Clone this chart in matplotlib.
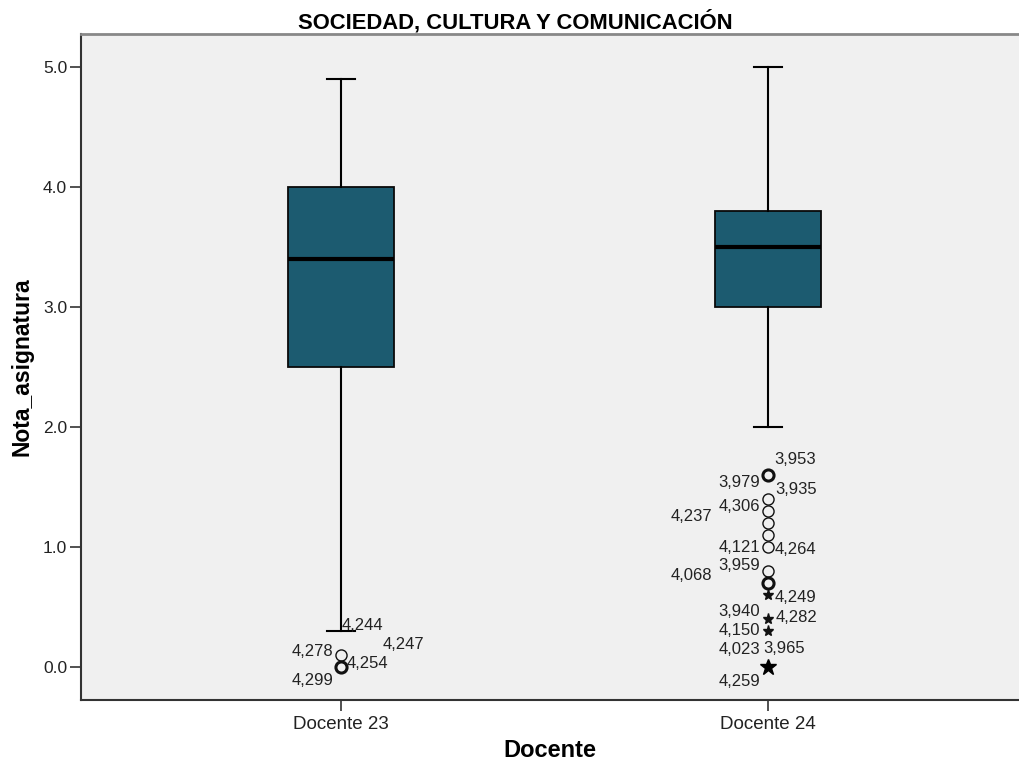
import matplotlib
matplotlib.use("Agg")
import matplotlib.pyplot as plt

# Notas por docente (resumen del diagrama de caja)
docentes = ["Docente 23", "Docente 24"]
medianas = [3.4, 3.5]
q1 = [2.5, 3.0]
q3 = [4.0, 3.8]
bigote_inf = [0.3, 2.0]
bigote_sup = [4.9, 5.0]

# Valores atípicos (círculos) y extremos (estrellas); "multi" = casos repetidos
atipicos_23 = [0.1]
atipicos_23_multi = [0.0]
atipicos_24 = [1.4, 1.3, 1.2, 1.1, 1.0, 0.8]
atipicos_24_multi = [1.6, 0.7]
extremos_24 = [0.6, 0.4, 0.3]
extremos_24_multi = [0.0]

# Etiquetas de caso: (índice docente, valor, texto)
casos = [
    (0, 0.3, "4,244"), (0, 0.1, "4,278"), (0, 0.0, "4,247"),
    (0, 0.0, "4,254"), (0, 0.0, "4,299"),
    (1, 1.6, "3,953"), (1, 1.6, "3,979"), (1, 1.4, "3,935"),
    (1, 1.3, "4,306"), (1, 1.2, "4,237"), (1, 1.0, "4,121"),
    (1, 1.0, "4,264"), (1, 0.8, "3,959"), (1, 0.7, "4,068"),
    (1, 0.6, "4,249"), (1, 0.4, "3,940"), (1, 0.4, "4,282"),
    (1, 0.3, "4,150"), (1, 0.0, "4,023"), (1, 0.0, "3,965"),
    (1, 0.0, "4,259"),
]
# desplazamiento de cada etiqueta en píxeles (dx, dy, alineación)
desplazamientos = [
    (1, 5, "left"), (-8, 3, "right"), (42, 22, "left"),
    (6, 3, "left"), (-8, -14, "right"),
    (6, 15, "left"), (-8, -8, "right"), (7, 9, "left"),
    (-8, 4, "right"), (-56, 6, "right"), (-8, -1, "right"),
    (7, -3, "left"), (-8, 5, "right"), (-56, 7, "right"),
    (7, -3, "left"), (-8, 7, "right"), (8, 1, "left"),
    (-8, 0, "right"), (-8, 17, "right"), (-5, 18, "left"),
    (-8, -15, "right"),
]

plt.rcParams["font.family"] = ["Liberation Sans", "DejaVu Sans"]

fig = plt.figure(figsize=(10.19, 7.64), dpi=100)
ax = fig.add_axes([0.0795, 0.0838, 0.9205, 0.8717])
ax.set_facecolor("#f0f0f0")

stats = []
for i in range(len(docentes)):
    stats.append({"med": medianas[i], "q1": q1[i], "q3": q3[i],
                  "whislo": bigote_inf[i], "whishi": bigote_sup[i],
                  "fliers": [], "label": docentes[i]})

pos = [0, 1]
ax.bxp(stats, positions=pos, widths=0.25, patch_artist=True, showfliers=False,
       boxprops=dict(facecolor="#1c5b70", edgecolor="#0a0a0a", linewidth=1.3),
       medianprops=dict(color="black", linewidth=3),
       whiskerprops=dict(color="black", linewidth=1.5),
       capprops=dict(color="black", linewidth=1.5),
       capwidths=0.066)

circ = dict(marker="o", linestyle="none", markerfacecolor="none",
            markeredgecolor="#111111", markersize=8)
ax.plot([pos[0]] * len(atipicos_23), atipicos_23, markeredgewidth=1, **circ)
ax.plot([pos[0]] * len(atipicos_23_multi), atipicos_23_multi, markeredgewidth=2.2, **circ)
ax.plot([pos[1]] * len(atipicos_24), atipicos_24, markeredgewidth=1, **circ)
ax.plot([pos[1]] * len(atipicos_24_multi), atipicos_24_multi, markeredgewidth=2.2, **circ)
ax.plot([pos[1]] * len(extremos_24), extremos_24, marker="*", linestyle="none",
        color="#111111", markersize=8)
ax.plot([pos[1]] * len(extremos_24_multi), extremos_24_multi, marker="*",
        linestyle="none", color="black", markersize=12)

for (g, v, txt), (dx, dy, ha) in zip(casos, desplazamientos):
    ax.annotate(txt, xy=(pos[g], v), xytext=(dx, dy), textcoords="offset pixels",
                ha=ha, va="center", fontsize=12, color="#222222")

ax.set_xlim(-0.609, 1.588)
ax.set_ylim(-0.275, 5.275)
ax.set_xticks(pos)
ax.set_xticklabels(docentes, fontsize=13.5)
ax.set_yticks([0, 1, 2, 3, 4, 5])
ax.set_yticklabels(["0.0", "1.0", "2.0", "3.0", "4.0", "5.0"], fontsize=12.5)
ax.tick_params(axis="both", direction="out", length=8, width=1.2, color="#333333",
               labelcolor="#222222")
ax.tick_params(axis="y", pad=2)

for s in ["left", "bottom"]:
    ax.spines[s].set_color("#333333")
    ax.spines[s].set_linewidth(1.5)
ax.spines["top"].set_color("#888888")
ax.spines["top"].set_linewidth(2)
ax.spines["right"].set_visible(False)

ax.set_xlabel("Docente", fontsize=17, fontweight="bold", labelpad=4)
ax.set_ylabel("Nota_asignatura", fontsize=16.5, fontweight="bold", labelpad=7)
ax.set_title("SOCIEDAD, CULTURA Y COMUNICACIÓN", fontsize=15.8, fontweight="bold",
             family=["Liberation Sans Narrow", "Liberation Sans"], pad=4,
             x=(515 - 81) / 938)

fig.savefig("out.png", dpi=100)
